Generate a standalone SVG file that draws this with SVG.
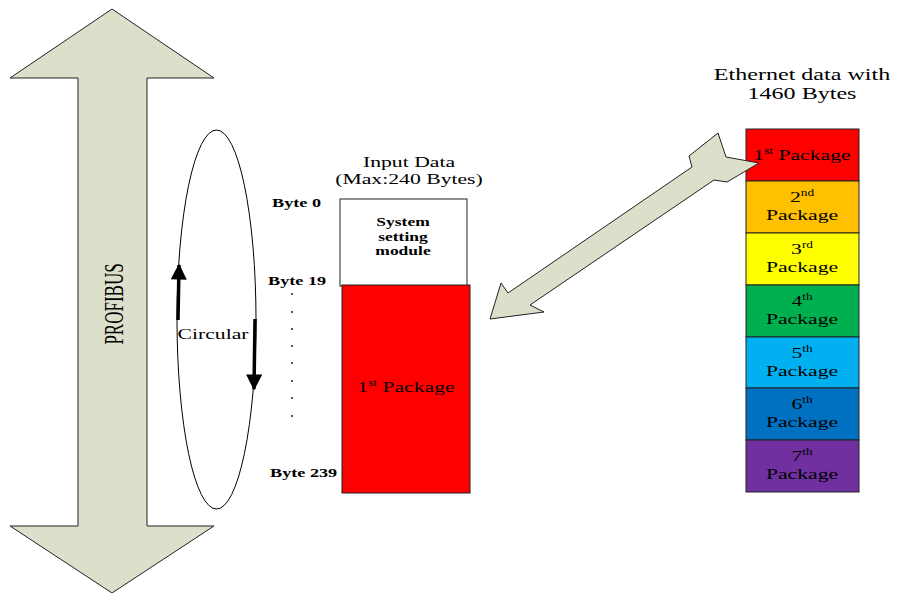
<svg xmlns="http://www.w3.org/2000/svg" width="897" height="593" viewBox="0 0 897 593">
<style>
text{font-family:"Liberation Serif","Times New Roman",serif;fill:#000}
.t{font-size:15.5px;text-anchor:middle}
.b{font-size:12.5px;font-weight:bold;text-anchor:middle}
.bl{font-size:13px;font-weight:bold;text-anchor:start}
.blk{fill:#DCDFCA;stroke:#222;stroke-width:1}
.cell{stroke:#222;stroke-width:1}
.ln{stroke:#000;stroke-width:3.5;fill:none}
</style>
<defs>
<marker id="ah" viewBox="0 0 10 10" refX="9" refY="5" markerWidth="4.8" markerHeight="4.6" orient="auto" markerUnits="strokeWidth"><path d="M0,0 L10,5 L0,10 Z" fill="#000"/></marker>
</defs>

<g id="profibus">
<polygon class="blk" points="112,9 214,78 147,78 147,526 214,526 112,593 10,526 78,526 78,78 10,78"/>
<text transform="translate(123,304) scale(1.55,1) rotate(-90)" style="font-size:17px;text-anchor:middle">PROFIBUS</text>
</g>

<g id="circular">
<ellipse cx="216.5" cy="319.5" rx="39.5" ry="189.5" fill="none" stroke="#000" stroke-width="1"/>
<text class="t" transform="translate(213,339) scale(1.4,1)">Circular</text>
</g>

<g id="input-data">
<text class="t" transform="translate(409,167) scale(1.4,1)">Input Data</text>
<text class="t" transform="translate(409,184) scale(1.4,1)">(Max:240 Bytes)</text>
<rect x="340" y="199" width="127" height="87" fill="#fff" stroke="#222" stroke-width="1"/>
<text class="b" transform="translate(403,226) scale(1.4,1)">System</text>
<text class="b" transform="translate(403,241) scale(1.4,1)">setting</text>
<text class="b" transform="translate(403,255) scale(1.4,1)">module</text>
<rect x="342" y="285" width="128" height="208" fill="#FF0000" stroke="#222" stroke-width="1"/>
<text class="t" transform="translate(406,392) scale(1.4,1)">1<tspan font-size="9.5" dy="-6">st</tspan><tspan dy="6"> Package</tspan></text>
<text class="bl" transform="translate(272,207) scale(1.4,1)">Byte 0</text>
<text class="bl" transform="translate(268,285) scale(1.4,1)">Byte 19</text>
<text class="bl" transform="translate(270,477) scale(1.4,1)">Byte 239</text>
<g fill="#000">
<circle cx="292" cy="294" r="0.9"/><circle cx="292" cy="312" r="0.9"/><circle cx="292" cy="329" r="0.9"/><circle cx="292" cy="346" r="0.9"/>
<circle cx="292" cy="363" r="0.9"/><circle cx="292" cy="381" r="0.9"/><circle cx="292" cy="398" r="0.9"/><circle cx="292" cy="416" r="0.9"/>
</g>
</g>

<g id="ethernet">
<text class="t" transform="translate(802,80) scale(1.4,1)" style="font-size:17.2px">Ethernet data with</text>
<text class="t" transform="translate(802,99) scale(1.4,1)" style="font-size:17.2px">1460 Bytes</text>
<g id="pkg1"><rect class="cell" x="746" y="129" width="113" height="52" fill="#FF0000"/>
<text class="t" transform="translate(802,160) scale(1.4,1)">1<tspan font-size="9.5" dy="-6">st</tspan><tspan dy="6"> Package</tspan></text></g>
<g id="pkg2"><rect class="cell" x="746" y="181" width="113" height="52" fill="#FFC000"/>
<text class="t" transform="translate(802,202) scale(1.4,1)">2<tspan font-size="9.5" dy="-6">nd</tspan></text>
<text class="t" transform="translate(802,220) scale(1.4,1)">Package</text></g>
<g id="pkg3"><rect class="cell" x="746" y="233" width="113" height="52" fill="#FFFF00"/>
<text class="t" transform="translate(802,254) scale(1.4,1)">3<tspan font-size="9.5" dy="-6">rd</tspan></text>
<text class="t" transform="translate(802,272) scale(1.4,1)">Package</text></g>
<g id="pkg4"><rect class="cell" x="746" y="285" width="113" height="52" fill="#00B050"/>
<text class="t" transform="translate(802,306) scale(1.4,1)">4<tspan font-size="9.5" dy="-6">th</tspan></text>
<text class="t" transform="translate(802,324) scale(1.4,1)">Package</text></g>
<g id="pkg5"><rect class="cell" x="746" y="337" width="113" height="51" fill="#00B0F0"/>
<text class="t" transform="translate(802,358) scale(1.4,1)">5<tspan font-size="9.5" dy="-6">th</tspan></text>
<text class="t" transform="translate(802,376) scale(1.4,1)">Package</text></g>
<g id="pkg6"><rect class="cell" x="746" y="388" width="113" height="52" fill="#0070C0"/>
<text class="t" transform="translate(802,409) scale(1.4,1)">6<tspan font-size="9.5" dy="-6">th</tspan></text>
<text class="t" transform="translate(802,427) scale(1.4,1)">Package</text></g>
<g id="pkg7"><rect class="cell" x="746" y="440" width="113" height="52" fill="#7030A0"/>
<text class="t" transform="translate(802,461) scale(1.4,1)">7<tspan font-size="9.5" dy="-6">th</tspan></text>
<text class="t" transform="translate(802,479) scale(1.4,1)">Package</text></g>
</g>

<g id="connectors">
<polygon class="blk" points="490,319 501,283 508,293 692,167 689,156 718,133 726,157 759,163 727,182 714,180 530,305 544,312"/>
<line class="ln" x1="178" y1="320" x2="179" y2="265" marker-end="url(#ah)"/>
<line class="ln" x1="255" y1="319" x2="254" y2="389" marker-end="url(#ah)"/>
</g>
</svg>
